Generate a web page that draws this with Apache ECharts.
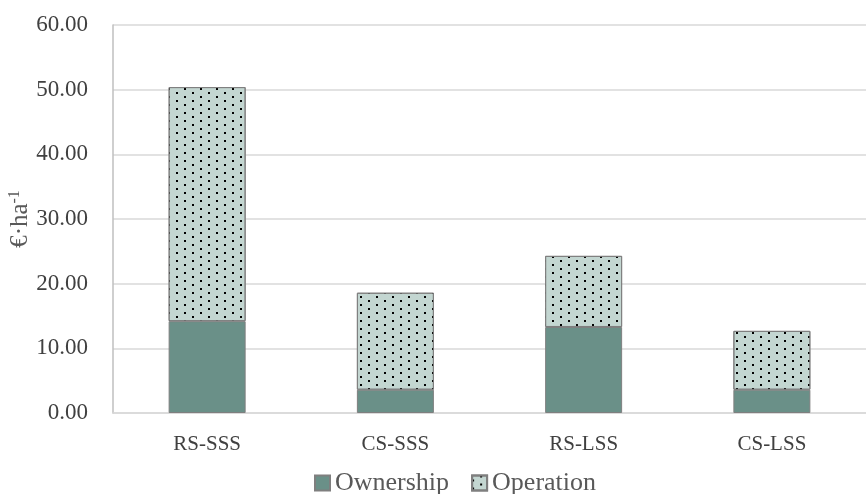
<!DOCTYPE html>
<html>
<head>
<meta charset="utf-8">
<script src="https://cdn.jsdelivr.net/npm/echarts@6/dist/echarts.min.js"></script>
<style>
  html, body { margin: 0; padding: 0; background: #fff; }
  #chart { width: 866px; height: 494px; }
</style>
</head>
<body>
<div id="chart"></div>
<script>
// data
var categories = ["RS-SSS", "CS-SSS", "RS-LSS", "CS-LSS"];
var ownership = [14.2, 3.6, 13.3, 3.6];
var operation = [36.2, 15.0, 11.0, 9.1];
var yTicks = { min: 0, max: 60, interval: 10 };

var font = "Liberation Serif";
var chart = echarts.init(document.getElementById("chart"));

// dotted fill (Excel 5% pattern)
var dots = {
  symbol: "rect",
  symbolSize: 1,
  color: "#000000",
  backgroundColor: null,
  dashArrayX: [[2, 14], [0, 8, 2, 6]],
  dashArrayY: [2, 2]
};

var option = {
  backgroundColor: "#ffffff",
  animation: false,
  grid: {
    left: 113,
    right: 0,
    top: 25,
    bottom: 81,
    containLabel: false,
    outerBoundsMode: "none"
  },
  legend: {
    left: 309,
    top: 465,
    itemWidth: 15,
    itemHeight: 15,
    itemGap: 22,
    icon: "rect",
    textStyle: {
      fontFamily: font,
      fontSize: 26,
      color: "#595959"
    },
    data: ["Ownership", "Operation"]
  },
  xAxis: {
    type: "category",
    data: categories,
    axisTick: { show: false },
    axisLine: { show: true, lineStyle: { color: "#d9d9d9", width: 1.5 } },
    axisLabel: {
      margin: 21,
      fontFamily: font,
      fontSize: 21,
      color: "#404040"
    }
  },
  yAxis: {
    type: "value",
    min: yTicks.min,
    max: yTicks.max,
    interval: yTicks.interval,
    name: "{a|€·ha}{b|-1}",
    nameLocation: "middle",
    nameGap: 80,
    nameRotate: 90,
    nameMoveOverlap: false,
    nameTextStyle: {
      rich: {
        a: { fontFamily: font, fontSize: 25, color: "#595959", lineHeight: 26, verticalAlign: "bottom" },
        b: { fontFamily: font, fontSize: 16, color: "#595959", lineHeight: 26, verticalAlign: "top", padding: [0, 0, 8, 0] }
      }
    },
    axisTick: { show: false },
    axisLine: { show: true, lineStyle: { color: "#bfbfbf", width: 1.5 } },
    splitLine: { show: true, lineStyle: { color: "#d9d9d9", width: 1.5 } },
    axisLabel: {
      margin: 25,
      fontFamily: font,
      fontSize: 23,
      color: "#404040",
      formatter: function (v) { return v.toFixed(2); }
    }
  },
  series: [
    {
      name: "Ownership",
      type: "bar",
      stack: "total",
      barWidth: 77,
      data: ownership,
      itemStyle: {
        color: "#6a9088",
        borderColor: "#7f7f7f",
        borderWidth: 1
      }
    },
    {
      name: "Operation",
      type: "bar",
      stack: "total",
      barWidth: 77,
      data: operation,
      itemStyle: {
        color: "#c3d6d1",
        borderColor: "#7f7f7f",
        borderWidth: 1,
        decal: dots
      }
    }
  ]
};
chart.setOption(option);
</script>
</body>
</html>
